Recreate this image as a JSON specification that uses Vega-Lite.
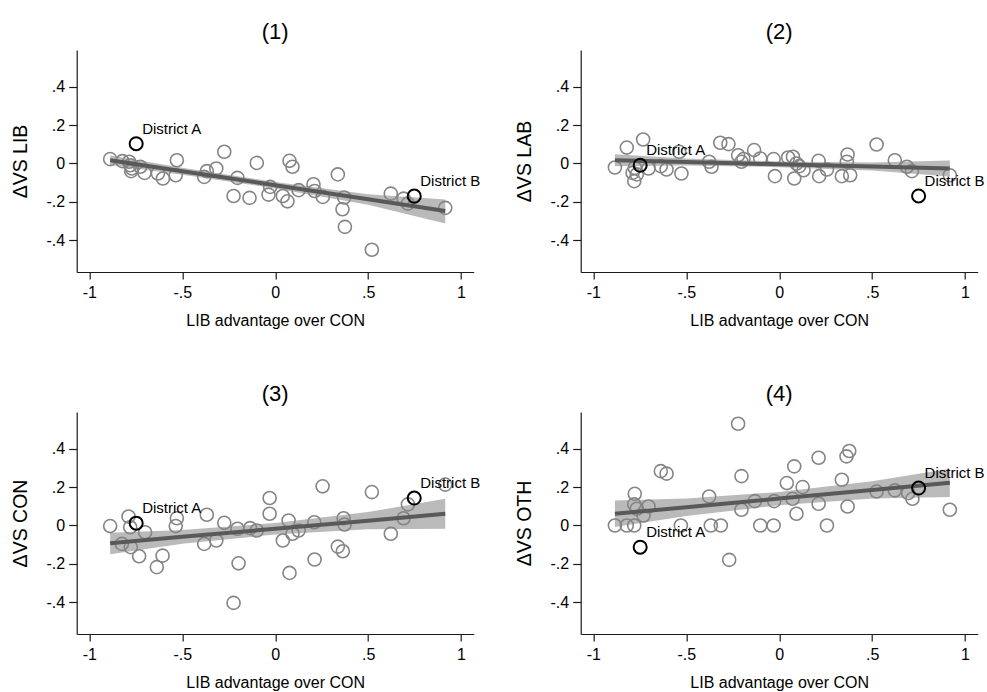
{
"$schema": "https://vega.github.io/schema/vega-lite/v6.json",
"autosize": "none",
"padding": {"left": 76.7, "top": 50, "right": 910.3, "bottom": 642},
"background": "white",
"bounds": "flush",
"columns": 2,
"spacing": {"row": 140, "column": 107},
"datasets": {
"pts": [
{"p":1,"x":-0.888,"y":0.023},{"p":1,"x":-0.822,"y":0.012},{"p":1,"x":-0.786,"y":0.009},{"p":1,"x":-0.780,"y":-0.009},{"p":1,"x":-0.771,"y":-0.026},{"p":1,"x":-0.775,"y":-0.040},{"p":1,"x":-0.726,"y":-0.017},{"p":1,"x":-0.703,"y":-0.049},{"p":1,"x":-0.631,"y":-0.052},{"p":1,"x":-0.604,"y":-0.078},{"p":1,"x":-0.529,"y":0.017},{"p":1,"x":-0.535,"y":-0.061},{"p":1,"x":-0.382,"y":-0.070},{"p":1,"x":-0.368,"y":-0.040},{"p":1,"x":-0.317,"y":-0.026},{"p":1,"x":-0.274,"y":0.061},{"p":1,"x":-0.224,"y":-0.169},{"p":1,"x":-0.203,"y":-0.075},{"p":1,"x":-0.138,"y":-0.179},{"p":1,"x":-0.099,"y":0.003},{"p":1,"x":-0.036,"y":-0.162},{"p":1,"x":-0.027,"y":-0.122},{"p":1,"x":0.041,"y":-0.169},{"p":1,"x":0.066,"y":-0.197},{"p":1,"x":0.077,"y":0.014},{"p":1,"x":0.093,"y":-0.017},{"p":1,"x":0.126,"y":-0.139},{"p":1,"x":0.206,"y":-0.108},{"p":1,"x":0.212,"y":-0.143},{"p":1,"x":0.256,"y":-0.174},{"p":1,"x":0.337,"y":-0.057},{"p":1,"x":0.371,"y":-0.177},{"p":1,"x":0.362,"y":-0.238},{"p":1,"x":0.375,"y":-0.330},{"p":1,"x":0.520,"y":-0.449},{"p":1,"x":0.622,"y":-0.157},{"p":1,"x":0.691,"y":-0.183},{"p":1,"x":0.714,"y":-0.209},{"p":1,"x":0.915,"y":-0.231},
{"p":1,"x":-0.748,"y":0.103,"d":"District A"},{"p":1,"x":0.748,"y":-0.170,"d":"District B"},
{"p":2,"x":-0.884,"y":-0.021},{"p":2,"x":-0.820,"y":0.083},{"p":2,"x":-0.789,"y":-0.049},{"p":2,"x":-0.780,"y":-0.092},{"p":2,"x":-0.766,"y":-0.057},{"p":2,"x":-0.777,"y":-0.023},{"p":2,"x":-0.732,"y":0.125},{"p":2,"x":-0.703,"y":-0.026},{"p":2,"x":-0.637,"y":-0.014},{"p":2,"x":-0.606,"y":-0.031},{"p":2,"x":-0.538,"y":0.061},{"p":2,"x":-0.526,"y":-0.052},{"p":2,"x":-0.377,"y":0.009},{"p":2,"x":-0.364,"y":-0.017},{"p":2,"x":-0.317,"y":0.108},{"p":2,"x":-0.273,"y":0.101},{"p":2,"x":-0.221,"y":0.043},{"p":2,"x":-0.203,"y":0.009},{"p":2,"x":-0.192,"y":0.023},{"p":2,"x":-0.135,"y":0.070},{"p":2,"x":-0.102,"y":0.026},{"p":2,"x":-0.030,"y":0.023},{"p":2,"x":-0.023,"y":-0.066},{"p":2,"x":0.048,"y":0.031},{"p":2,"x":0.074,"y":0.035},{"p":2,"x":0.093,"y":0.000},{"p":2,"x":0.081,"y":-0.078},{"p":2,"x":0.108,"y":-0.014},{"p":2,"x":0.131,"y":-0.035},{"p":2,"x":0.212,"y":0.014},{"p":2,"x":0.215,"y":-0.066},{"p":2,"x":0.257,"y":-0.031},{"p":2,"x":0.337,"y":-0.066},{"p":2,"x":0.368,"y":0.047},{"p":2,"x":0.364,"y":0.009},{"p":2,"x":0.382,"y":-0.061},{"p":2,"x":0.524,"y":0.099},{"p":2,"x":0.622,"y":0.017},{"p":2,"x":0.687,"y":-0.017},{"p":2,"x":0.714,"y":-0.040},{"p":2,"x":0.918,"y":-0.061},
{"p":2,"x":-0.748,"y":-0.009,"d":"District A"},{"p":2,"x":0.750,"y":-0.169,"d":"District B"},
{"p":3,"x":-0.888,"y":-0.003},{"p":3,"x":-0.825,"y":-0.096},{"p":3,"x":-0.789,"y":0.047},{"p":3,"x":-0.780,"y":-0.009},{"p":3,"x":-0.777,"y":-0.113},{"p":3,"x":-0.732,"y":-0.160},{"p":3,"x":-0.700,"y":-0.035},{"p":3,"x":-0.637,"y":-0.217},{"p":3,"x":-0.606,"y":-0.157},{"p":3,"x":-0.535,"y":-0.003},{"p":3,"x":-0.529,"y":0.038},{"p":3,"x":-0.382,"y":-0.096},{"p":3,"x":-0.368,"y":0.056},{"p":3,"x":-0.317,"y":-0.078},{"p":3,"x":-0.274,"y":0.014},{"p":3,"x":-0.224,"y":-0.403},{"p":3,"x":-0.203,"y":-0.017},{"p":3,"x":-0.197,"y":-0.197},{"p":3,"x":-0.135,"y":-0.014},{"p":3,"x":-0.099,"y":-0.026},{"p":3,"x":-0.030,"y":0.143},{"p":3,"x":-0.030,"y":0.061},{"p":3,"x":0.041,"y":-0.078},{"p":3,"x":0.072,"y":0.026},{"p":3,"x":0.077,"y":-0.247},{"p":3,"x":0.093,"y":-0.043},{"p":3,"x":0.126,"y":-0.026},{"p":3,"x":0.210,"y":0.017},{"p":3,"x":0.212,"y":-0.177},{"p":3,"x":0.255,"y":0.204},{"p":3,"x":0.337,"y":-0.110},{"p":3,"x":0.364,"y":-0.134},{"p":3,"x":0.368,"y":0.038},{"p":3,"x":0.373,"y":0.005},{"p":3,"x":0.520,"y":0.174},{"p":3,"x":0.622,"y":-0.043},{"p":3,"x":0.691,"y":0.038},{"p":3,"x":0.714,"y":0.110},{"p":3,"x":0.915,"y":0.213},
{"p":3,"x":-0.748,"y":0.012,"d":"District A"},{"p":3,"x":0.748,"y":0.143,"d":"District B"},
{"p":4,"x":-0.884,"y":0.000},{"p":4,"x":-0.820,"y":0.000},{"p":4,"x":-0.780,"y":0.000},{"p":4,"x":-0.777,"y":0.165},{"p":4,"x":-0.780,"y":0.110},{"p":4,"x":-0.766,"y":0.087},{"p":4,"x":-0.730,"y":0.052},{"p":4,"x":-0.703,"y":0.099},{"p":4,"x":-0.637,"y":0.283},{"p":4,"x":-0.606,"y":0.270},{"p":4,"x":-0.529,"y":0.000},{"p":4,"x":-0.377,"y":0.151},{"p":4,"x":-0.368,"y":0.000},{"p":4,"x":-0.314,"y":0.000},{"p":4,"x":-0.269,"y":-0.179},{"p":4,"x":-0.221,"y":0.530},{"p":4,"x":-0.203,"y":0.257},{"p":4,"x":-0.203,"y":0.082},{"p":4,"x":-0.131,"y":0.127},{"p":4,"x":-0.102,"y":0.000},{"p":4,"x":-0.030,"y":0.000},{"p":4,"x":-0.027,"y":0.127},{"p":4,"x":0.041,"y":0.221},{"p":4,"x":0.072,"y":0.139},{"p":4,"x":0.081,"y":0.308},{"p":4,"x":0.093,"y":0.061},{"p":4,"x":0.126,"y":0.200},{"p":4,"x":0.212,"y":0.353},{"p":4,"x":0.212,"y":0.113},{"p":4,"x":0.257,"y":0.000},{"p":4,"x":0.337,"y":0.238},{"p":4,"x":0.362,"y":0.360},{"p":4,"x":0.377,"y":0.388},{"p":4,"x":0.368,"y":0.099},{"p":4,"x":0.524,"y":0.177},{"p":4,"x":0.622,"y":0.183},{"p":4,"x":0.694,"y":0.169},{"p":4,"x":0.717,"y":0.139},{"p":4,"x":0.918,"y":0.082},
{"p":4,"x":-0.748,"y":-0.113,"d":"District A"},{"p":4,"x":0.750,"y":0.195,"d":"District B"}
],
"fit": [
{"p":1,"x":-0.888,"y":0.017,"lo":-0.008,"hi":0.042},{"p":1,"x":-0.5,"y":-0.040,"lo":-0.058,"hi":-0.022},{"p":1,"x":0,"y":-0.113,"lo":-0.130,"hi":-0.096},{"p":1,"x":0.5,"y":-0.186,"lo":-0.215,"hi":-0.160},{"p":1,"x":0.915,"y":-0.247,"lo":-0.312,"hi":-0.188},
{"p":2,"x":-0.884,"y":0.017,"lo":-0.014,"hi":0.048},{"p":2,"x":-0.5,"y":0.008,"lo":-0.010,"hi":0.026},{"p":2,"x":0,"y":-0.004,"lo":-0.019,"hi":0.011},{"p":2,"x":0.5,"y":-0.016,"lo":-0.037,"hi":0.005},{"p":2,"x":0.918,"y":-0.026,"lo":-0.068,"hi":0.016},
{"p":3,"x":-0.888,"y":-0.092,"lo":-0.150,"hi":-0.038},{"p":3,"x":-0.5,"y":-0.059,"lo":-0.095,"hi":-0.023},{"p":3,"x":0,"y":-0.017,"lo":-0.047,"hi":0.013},{"p":3,"x":0.5,"y":0.025,"lo":-0.020,"hi":0.070},{"p":3,"x":0.915,"y":0.061,"lo":-0.017,"hi":0.139},
{"p":4,"x":-0.884,"y":0.061,"lo":-0.008,"hi":0.130},{"p":4,"x":-0.5,"y":0.095,"lo":0.050,"hi":0.140},{"p":4,"x":0,"y":0.140,"lo":0.105,"hi":0.175},{"p":4,"x":0.5,"y":0.185,"lo":0.140,"hi":0.230},{"p":4,"x":0.918,"y":0.223,"lo":0.148,"hi":0.296}
]
},
"concat": [
{"width":397,"height":222,"title":"(1)",
 "encoding":{"x":{"field":"x","type":"quantitative","title":"LIB advantage over CON","scale":{"domain":[-1.068,1.068],"nice":false,"zero":false},"axis":{"values":[-1,-0.5,0,0.5,1],"labelExpr":"replace(toString(datum.value),'0.','.')"}},
   "y":{"field":"y","type":"quantitative","title":"ΔVS LIB","scale":{"domain":[-0.565,0.591],"nice":false,"zero":false},"axis":{"values":[-0.4,-0.2,0,0.2,0.4],"labelExpr":"replace(toString(datum.value),'0.','.')"}}},
 "layer":[
  {"data":{"name":"fit"},"transform":[{"filter":"datum.p==1"}],"mark":{"type":"area","color":"#bababa","opacity":1},"encoding":{"y":{"field":"lo","type":"quantitative","title":"ΔVS LIB","scale":{"domain":[-0.565,0.591],"nice":false,"zero":false},"axis":{"values":[-0.4,-0.2,0,0.2,0.4],"labelExpr":"replace(toString(datum.value),'0.','.')"}},"y2":{"field":"hi"}}},
  {"data":{"name":"pts"},"transform":[{"filter":"datum.p==1 && !datum.d"}],"mark":{"type":"point","shape":"circle","filled":false,"color":"#858585","strokeWidth":1.6,"size":170,"opacity":1}},
  {"data":{"name":"fit"},"transform":[{"filter":"datum.p==1"}],"mark":{"type":"line","color":"#595959","strokeWidth":4}},
  {"data":{"name":"pts"},"transform":[{"filter":"datum.p==1 && datum.d"}],"mark":{"type":"point","shape":"circle","filled":false,"color":"#000000","strokeWidth":2,"size":170,"opacity":1}},
  {"data":{"name":"pts"},"transform":[{"filter":"datum.p==1 && datum.d"}],"mark":{"type":"text","align":"left","baseline":"alphabetic","dx":6,"dy":-10,"fontSize":15,"font":"Liberation Sans","color":"#000000"},"encoding":{"text":{"field":"d"}}}
 ]},
{"width":397,"height":222,"title":"(2)",
 "encoding":{"x":{"field":"x","type":"quantitative","title":"LIB advantage over CON","scale":{"domain":[-1.068,1.068],"nice":false,"zero":false},"axis":{"values":[-1,-0.5,0,0.5,1],"labelExpr":"replace(toString(datum.value),'0.','.')"}},
   "y":{"field":"y","type":"quantitative","title":"ΔVS LAB","scale":{"domain":[-0.565,0.591],"nice":false,"zero":false},"axis":{"values":[-0.4,-0.2,0,0.2,0.4],"labelExpr":"replace(toString(datum.value),'0.','.')"}}},
 "layer":[
  {"data":{"name":"fit"},"transform":[{"filter":"datum.p==2"}],"mark":{"type":"area","color":"#bababa","opacity":1},"encoding":{"y":{"field":"lo","type":"quantitative","title":"ΔVS LAB","scale":{"domain":[-0.565,0.591],"nice":false,"zero":false},"axis":{"values":[-0.4,-0.2,0,0.2,0.4],"labelExpr":"replace(toString(datum.value),'0.','.')"}},"y2":{"field":"hi"}}},
  {"data":{"name":"pts"},"transform":[{"filter":"datum.p==2 && !datum.d"}],"mark":{"type":"point","shape":"circle","filled":false,"color":"#858585","strokeWidth":1.6,"size":170,"opacity":1}},
  {"data":{"name":"fit"},"transform":[{"filter":"datum.p==2"}],"mark":{"type":"line","color":"#595959","strokeWidth":4}},
  {"data":{"name":"pts"},"transform":[{"filter":"datum.p==2 && datum.d"}],"mark":{"type":"point","shape":"circle","filled":false,"color":"#000000","strokeWidth":2,"size":170,"opacity":1}},
  {"data":{"name":"pts"},"transform":[{"filter":"datum.p==2 && datum.d"}],"mark":{"type":"text","align":"left","baseline":"alphabetic","dx":6,"dy":-10,"fontSize":15,"font":"Liberation Sans","color":"#000000"},"encoding":{"text":{"field":"d"}}}
 ]},
{"width":397,"height":222,"title":"(3)",
 "encoding":{"x":{"field":"x","type":"quantitative","title":"LIB advantage over CON","scale":{"domain":[-1.068,1.068],"nice":false,"zero":false},"axis":{"values":[-1,-0.5,0,0.5,1],"labelExpr":"replace(toString(datum.value),'0.','.')"}},
   "y":{"field":"y","type":"quantitative","title":"ΔVS CON","scale":{"domain":[-0.565,0.591],"nice":false,"zero":false},"axis":{"values":[-0.4,-0.2,0,0.2,0.4],"labelExpr":"replace(toString(datum.value),'0.','.')"}}},
 "layer":[
  {"data":{"name":"fit"},"transform":[{"filter":"datum.p==3"}],"mark":{"type":"area","color":"#bababa","opacity":1},"encoding":{"y":{"field":"lo","type":"quantitative","title":"ΔVS CON","scale":{"domain":[-0.565,0.591],"nice":false,"zero":false},"axis":{"values":[-0.4,-0.2,0,0.2,0.4],"labelExpr":"replace(toString(datum.value),'0.','.')"}},"y2":{"field":"hi"}}},
  {"data":{"name":"pts"},"transform":[{"filter":"datum.p==3 && !datum.d"}],"mark":{"type":"point","shape":"circle","filled":false,"color":"#858585","strokeWidth":1.6,"size":170,"opacity":1}},
  {"data":{"name":"fit"},"transform":[{"filter":"datum.p==3"}],"mark":{"type":"line","color":"#595959","strokeWidth":4}},
  {"data":{"name":"pts"},"transform":[{"filter":"datum.p==3 && datum.d"}],"mark":{"type":"point","shape":"circle","filled":false,"color":"#000000","strokeWidth":2,"size":170,"opacity":1}},
  {"data":{"name":"pts"},"transform":[{"filter":"datum.p==3 && datum.d"}],"mark":{"type":"text","align":"left","baseline":"alphabetic","dx":6,"dy":-10,"fontSize":15,"font":"Liberation Sans","color":"#000000"},"encoding":{"text":{"field":"d"}}}
 ]},
{"width":397,"height":222,"title":"(4)",
 "encoding":{"x":{"field":"x","type":"quantitative","title":"LIB advantage over CON","scale":{"domain":[-1.068,1.068],"nice":false,"zero":false},"axis":{"values":[-1,-0.5,0,0.5,1],"labelExpr":"replace(toString(datum.value),'0.','.')"}},
   "y":{"field":"y","type":"quantitative","title":"ΔVS OTH","scale":{"domain":[-0.565,0.591],"nice":false,"zero":false},"axis":{"values":[-0.4,-0.2,0,0.2,0.4],"labelExpr":"replace(toString(datum.value),'0.','.')"}}},
 "layer":[
  {"data":{"name":"fit"},"transform":[{"filter":"datum.p==4"}],"mark":{"type":"area","color":"#bababa","opacity":1},"encoding":{"y":{"field":"lo","type":"quantitative","title":"ΔVS OTH","scale":{"domain":[-0.565,0.591],"nice":false,"zero":false},"axis":{"values":[-0.4,-0.2,0,0.2,0.4],"labelExpr":"replace(toString(datum.value),'0.','.')"}},"y2":{"field":"hi"}}},
  {"data":{"name":"pts"},"transform":[{"filter":"datum.p==4 && !datum.d"}],"mark":{"type":"point","shape":"circle","filled":false,"color":"#858585","strokeWidth":1.6,"size":170,"opacity":1}},
  {"data":{"name":"fit"},"transform":[{"filter":"datum.p==4"}],"mark":{"type":"line","color":"#595959","strokeWidth":4}},
  {"data":{"name":"pts"},"transform":[{"filter":"datum.p==4 && datum.d"}],"mark":{"type":"point","shape":"circle","filled":false,"color":"#000000","strokeWidth":2,"size":170,"opacity":1}},
  {"data":{"name":"pts"},"transform":[{"filter":"datum.p==4 && datum.d"}],"mark":{"type":"text","align":"left","baseline":"alphabetic","dx":6,"dy":-10,"fontSize":15,"font":"Liberation Sans","color":"#000000"},"encoding":{"text":{"field":"d"}}}
 ]}
],
"config": {
 "view": {"stroke": null},
 "font": "Liberation Sans",
 "title": {"fontSize": 22, "font": "Liberation Sans", "fontWeight": "normal", "color": "#000000", "frame": "group", "anchor": "middle", "offset": 6},
 "axis": {"grid": false, "domainColor": "#1a1a1a", "tickColor": "#1a1a1a", "domainWidth": 1.2, "tickWidth": 1.2, "labelFont": "Liberation Sans", "labelFontSize": 16, "labelColor": "#000000", "titleFont": "Liberation Sans", "titleColor": "#000000", "titleFontWeight": "normal", "labelOverlap": false, "labelFlush": false},
 "axisX": {"tickSize": 7, "labelPadding": 5, "titleFontSize": 16, "titlePadding": 12},
 "axisY": {"tickSize": 8, "labelPadding": 4, "titleFontSize": 19.5, "titlePadding": 16}
}
}
